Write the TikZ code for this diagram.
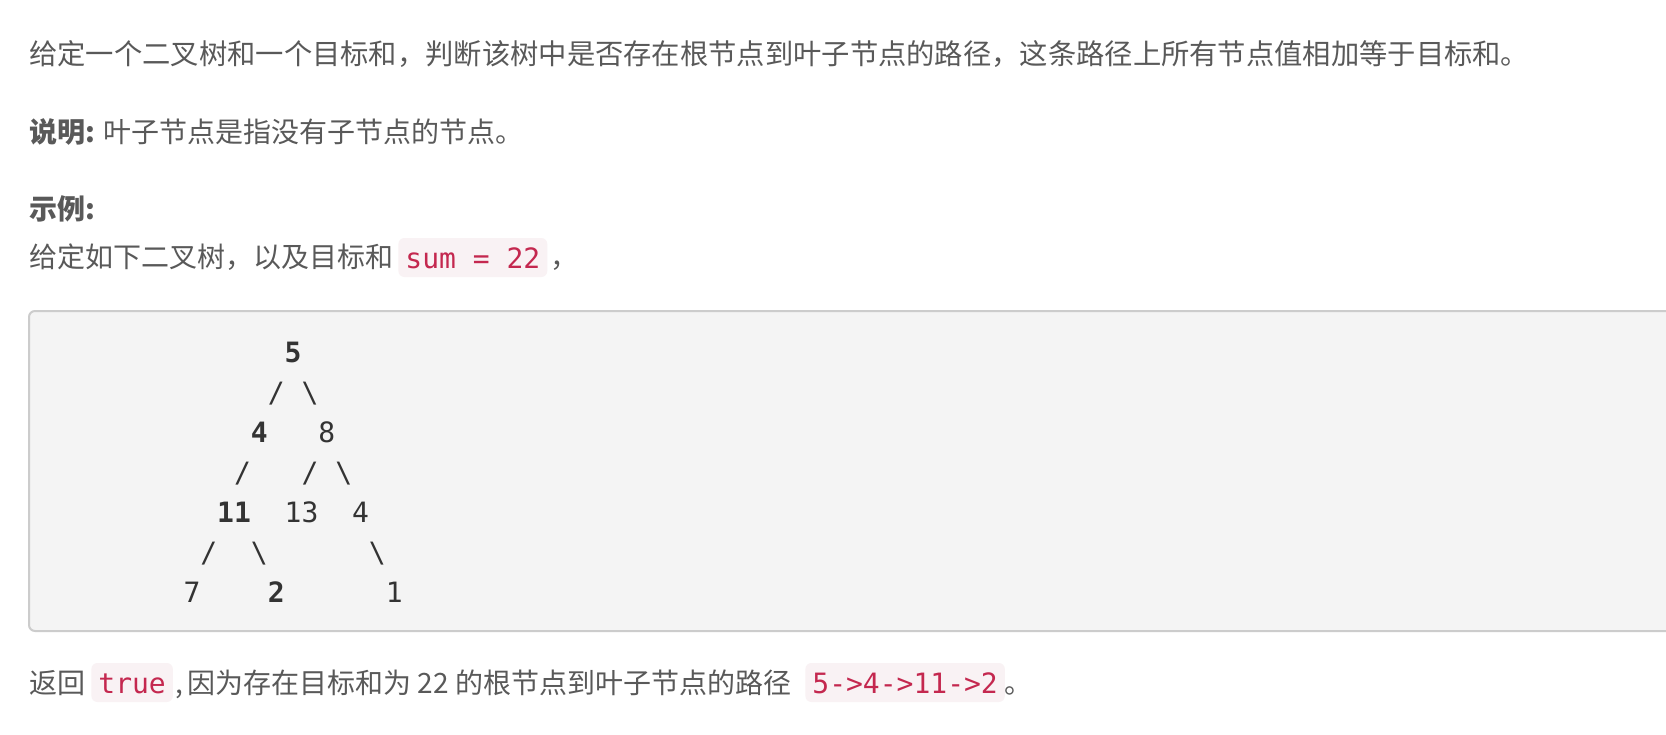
\documentclass[tikz,border=0pt]{standalone}
\usepackage{fontspec}
\setmainfont{Noto Sans CJK SC}
\setmonofont{DejaVu Sans Mono}
\usetikzlibrary{positioning}
\definecolor{bodygray}{HTML}{595959}
\definecolor{codered}{HTML}{C4284F}
\definecolor{codepink}{HTML}{F9F2F4}
\definecolor{blockbg}{HTML}{F4F4F4}
\definecolor{blockline}{HTML}{CCCCCC}
\definecolor{treeink}{HTML}{333333}

\begin{document}
\begin{tikzpicture}[x=0.5pt,y=-0.5pt,
  txt/.style={anchor=base west,inner sep=0pt,text=bodygray,font=\fontsize{14pt}{20pt}\selectfont},
  icode/.style={anchor=base west,inner xsep=3.5pt,inner ysep=0pt,text height=15pt,text depth=4.5pt,
    fill=codepink,text=codered,rounded corners=3pt,font=\fontsize{14pt}{20pt}\ttfamily},
  tree/.style={anchor=base,inner sep=0pt,text=treeink,font=\fontsize{14pt}{20pt}\ttfamily}]
\useasboundingbox (0,0) rectangle (1666,734);
\clip (0,0) rectangle (1666,734);
\fill[white] (0,0) rectangle (1666,734);

% text above the example
\node[txt,font=\fontsize{14.15pt}{20pt}\selectfont] (intro) at (29,64) {给定一个二叉树和一个目标和，判断该树中是否存在根节点到叶子节点的路径，这条路径上所有节点值相加等于目标和。};
\node[txt] (note) at (29,142) {\textbf{说明:} 叶子节点是指没有子节点的节点。};
\node[txt] (example) at (29,219) {\textbf{示例:}};
\node[txt] (given) at (29,267) {给定如下二叉树，以及目标和};
\node[icode] (sum) at (398,268) {sum = 22};
\node[txt] (comma) at (550,267) {，};

% code block
\draw[fill=blockbg,draw=blockline,line width=1pt,rounded corners=3pt] (29,311) rectangle (1720,631);

% tree, one token per node
\node[tree] (r5) at (293.1,362) {\textbf{5}};
\node[tree] (e1) at (276.2,402) {/};
\node[tree] (e2) at (310,402) {\textbackslash};
\node[tree] (l4) at (259.4,442) {\textbf{4}};
\node[tree] (r8) at (326.8,442) {8};
\node[tree] (e3) at (242.5,482) {/};
\node[tree] (e4) at (310,482) {/};
\node[tree] (e5) at (343.7,482) {\textbackslash};
\node[tree] (l11) at (234,522) {\textbf{11}};
\node[tree] (r13) at (301.5,522) {13};
\node[tree] (r4) at (360.5,522) {4};
\node[tree] (e6) at (208.8,562) {/};
\node[tree] (e7) at (259.4,562) {\textbackslash};
\node[tree] (e8) at (377.4,562) {\textbackslash};
\node[tree] (l7) at (192,602) {7};
\node[tree] (l2) at (276.2,602) {\textbf{2}};
\node[tree] (l1) at (394.3,602) {1};

% answer line
\node[txt] (ret) at (29,693) {返回};
\node[icode] (true) at (91,693) {true};
\node[txt] (comma2) at (175,693) {,};
\node[txt] (because) at (187,693) {因为存在目标和为 22 的根节点到叶子节点的路径};
\node[icode] (path) at (805,693) {5->4->11->2};
\node[txt] (stop) at (1004,693) {。};
\end{tikzpicture}
\end{document}
